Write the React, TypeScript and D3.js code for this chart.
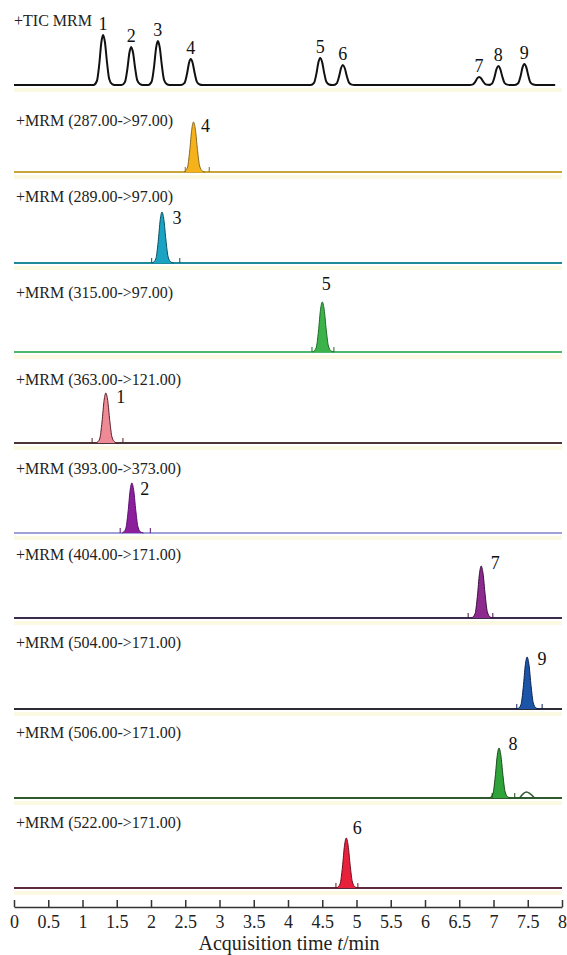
import React, { useEffect, useRef } from "react";
import * as d3 from "d3";

// chromatogram data
const ticRt = [1.3, 1.71, 2.1, 2.58, 4.47, 4.8, 6.79, 7.07, 7.45];
const ticHeight = [100, 76, 88, 52, 54, 40, 16, 38, 42];
const ticNo = ["1", "2", "3", "4", "5", "6", "7", "8", "9"];

const transitions = [
  "+MRM (287.00->97.00)",
  "+MRM (289.00->97.00)",
  "+MRM (315.00->97.00)",
  "+MRM (363.00->121.00)",
  "+MRM (393.00->373.00)",
  "+MRM (404.00->171.00)",
  "+MRM (504.00->171.00)",
  "+MRM (506.00->171.00)",
  "+MRM (522.00->171.00)",
];
const compoundNo = ["4", "3", "5", "1", "2", "7", "9", "8", "6"];
const panelRt = [2.62, 2.16, 4.5, 1.34, 1.72, 6.82, 7.49, 7.08, 4.85];
const panelHeight = [100, 102, 100, 100, 100, 104, 104, 100, 100];
const intStart = [2.5, 2.01, 4.35, 1.14, 1.55, 6.63, 7.34, 6.98, 4.7];
const intEnd = [2.85, 2.42, 4.67, 1.59, 1.99, 6.99, 7.71, 7.31, 5.02];
// small side peak (panel index, time, height)
const minorPeaks: [number, number, number][] = [[7, 7.48, 12]];

// peak profile: time offset (min) vs fraction of apex
const peakShape: [number, number][] = [
  [-0.14, 0], [-0.09, 0.08], [-0.055, 0.42], [-0.025, 0.85], [0, 1],
  [0.028, 0.85], [0.058, 0.45], [0.09, 0.12], [0.13, 0.02], [0.17, 0],
];
const timeTicks = [0, 0.5, 1, 1.5, 2, 2.5, 3, 3.5, 4, 4.5, 5, 5.5, 6, 6.5, 7, 7.5, 8];

// layout / styling
const W = 567;
const H = 955;
const ticBase = 85;
const panelBase = [172, 263, 352, 443, 533, 618, 709, 798, 888];
const labelBase = [126, 202, 298, 385, 474, 560, 648, 738, 828];
const numDx = [12, 15, 4, 15, 13, 14, 15, 14, 11];
const numDy = [10, 12, -12, 10, 12, 3, 8, 2, -4];
const fills = ["#f6b21a", "#1aa3c2", "#3cb34a", "#ee8a96", "#8c1f9c", "#8c2a8e", "#1c55a8", "#2ea33a", "#e8203c"];
const outlines = ["#8a6a20", "#0a5060", "#1d6a2a", "#5a2028", "#5a1070", "#3a1040", "#0c2050", "#1a4a1a", "#6a1020"];
const baseColors = ["#c9a53a", "#1f8a9a", "#4db870", "#4a3434", "#a0a0d8", "#3c2c4c", "#2c2c38", "#2f5a30", "#5a2c3c"];
const serif = "'Liberation Serif', 'Times New Roman', serif";

function peakPoints(rt: number, h: number): [number, number][] {
  return peakShape.map(([dt, f]) => [rt + dt, f * h]);
}

export default function App() {
  const axisRef = useRef<SVGGElement>(null);
  const x = d3.scaleLinear().domain([0, 8]).range([14, 562]);
  const axisY = 907;

  useEffect(() => {
    const g = d3.select(axisRef.current);
    g.selectAll("*").remove();
    const axis = d3
      .axisBottom(x)
      .tickValues(timeTicks)
      .tickFormat((d) => String(d))
      .tickSizeInner(-7)
      .tickSizeOuter(0)
      .tickPadding(8);
    g.call(axis);
    g.select(".domain").attr("stroke", "#333").attr("stroke-width", 1.5);
    g.selectAll(".tick line").attr("stroke", "#333").attr("stroke-width", 1.5);
    g.selectAll(".tick text")
      .attr("fill", "#222")
      .style("font-family", serif)
      .style("font-size", "18px");
  }, []);

  // TIC trace
  const yTic = d3.scaleLinear().domain([0, 100]).range([ticBase, ticBase - 50]);
  const ticPts: [number, number][] = [[0, 0]];
  ticRt.forEach((rt, i) => ticPts.push(...peakPoints(rt, ticHeight[i])));
  ticPts.push([7.9, 0]);
  const ticLine = d3
    .line<[number, number]>()
    .x((d) => x(d[0]))
    .y((d) => yTic(d[1]))
    .curve(d3.curveMonotoneX);

  return (
    <svg
      width={W}
      height={H}
      style={{ position: "absolute", left: 0, top: 0, background: "#fff" }}
    >
      <rect x={14} y={ticBase + 3} width={548} height={4} fill="#fbf9e2" />
      <text x={14} y={26} fontFamily={serif} fontSize={16} fill="#222">
        +TIC MRM
      </text>
      <path d={ticLine(ticPts) || ""} fill="none" stroke="#111" strokeWidth={2} />
      {ticRt.map((rt, i) => (
        <text
          key={"tn" + i}
          x={x(rt)}
          y={yTic(ticHeight[i]) - 5}
          textAnchor="middle"
          fontFamily={serif}
          fontSize={18}
          fill="#111"
        >
          {ticNo[i]}
        </text>
      ))}

      {transitions.map((t, i) => {
        const b = panelBase[i];
        const y = d3.scaleLinear().domain([0, 100]).range([b, b - 50]);
        const area = d3
          .area<[number, number]>()
          .x((d) => x(d[0]))
          .y0(y(0))
          .y1((d) => y(d[1]))
          .curve(d3.curveMonotoneX);
        const line = d3
          .line<[number, number]>()
          .x((d) => x(d[0]))
          .y((d) => y(d[1]))
          .curve(d3.curveMonotoneX);
        const pts = peakPoints(panelRt[i], panelHeight[i]);
        const minors = minorPeaks.filter((m) => m[0] === i);
        return (
          <g key={"p" + i}>
            <rect x={14} y={b + 3} width={548} height={4} fill="#fbf9e2" />
            <text x={16} y={labelBase[i]} fontFamily={serif} fontSize={16} fill="#222">
              {t}
            </text>
            <line x1={x(0)} x2={x(8)} y1={b} y2={b} stroke={baseColors[i]} strokeWidth={2} />
            {minors.map((m, k) => (
              <path
                key={k}
                d={line([[m[1] - 0.1, 0], [m[1], m[2]], [m[1] + 0.12, 0]]) || ""}
                fill="none"
                stroke={baseColors[i]}
                strokeWidth={1.5}
              />
            ))}
            <path d={area(pts) || ""} fill={fills[i]} stroke="none" />
            <path d={line(pts) || ""} fill="none" stroke={outlines[i]} strokeWidth={1} />
            {[intStart[i], intEnd[i]].map((v, k) => (
              <line
                key={k}
                x1={x(v)}
                x2={x(v)}
                y1={b}
                y2={b - 5}
                stroke={outlines[i]}
                strokeWidth={1}
              />
            ))}
            <text
              x={x(panelRt[i]) + numDx[i]}
              y={y(panelHeight[i]) + numDy[i]}
              textAnchor="middle"
              fontFamily={serif}
              fontSize={18}
              fill="#111"
            >
              {compoundNo[i]}
            </text>
          </g>
        );
      })}

      <g ref={axisRef} transform={`translate(0,${axisY})`} />
      <text
        x={289}
        y={950}
        textAnchor="middle"
        fontFamily={serif}
        fontSize={20}
        fill="#222"
      >
        Acquisition time <tspan fontStyle="italic">t</tspan>/min
      </text>
    </svg>
  );
}
